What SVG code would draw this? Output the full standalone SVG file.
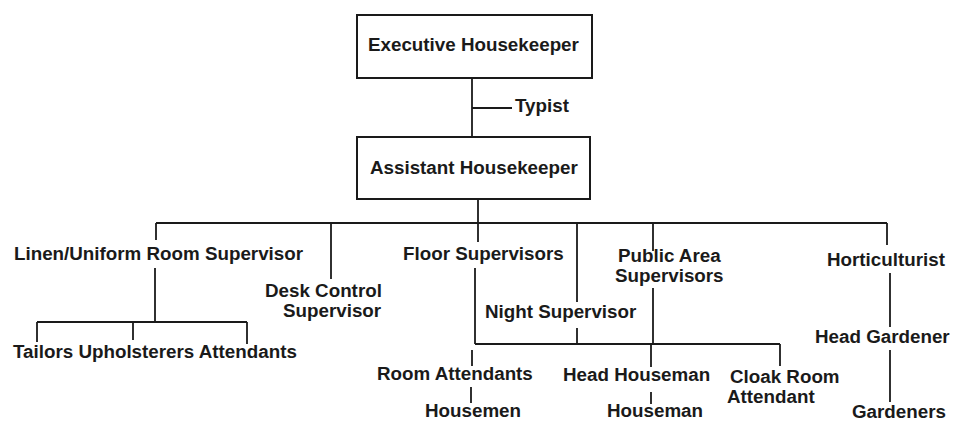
<svg xmlns="http://www.w3.org/2000/svg" width="976" height="423" viewBox="0 0 976 423">
<style>
text{font-family:"Liberation Sans",Arial,sans-serif;font-weight:bold;font-size:18.8px;fill:#1a1a1a}
.box{fill:#fff;stroke:#1a1a1a;stroke-width:2}
#connectors line{stroke:#1a1a1a;stroke-width:1.8}
</style>
<rect width="976" height="423" fill="#fff"/>
<g id="connectors">
<line x1="472" y1="78" x2="472" y2="137"/>
<line x1="472" y1="108" x2="512" y2="108"/>
<line x1="478" y1="199" x2="478" y2="223"/>
<line x1="156" y1="223" x2="887" y2="223"/>
<line x1="156" y1="223" x2="156" y2="240"/>
<line x1="331" y1="223" x2="331" y2="279"/>
<line x1="478" y1="223" x2="478" y2="242"/>
<line x1="577" y1="223" x2="577" y2="302"/>
<line x1="577" y1="328" x2="577" y2="344"/>
<line x1="653" y1="223" x2="653" y2="251"/>
<line x1="653" y1="288" x2="653" y2="344"/>
<line x1="887" y1="223" x2="887" y2="245"/>
<line x1="155" y1="268" x2="155" y2="322"/>
<line x1="37" y1="322" x2="247" y2="322"/>
<line x1="37" y1="322" x2="37" y2="342"/>
<line x1="133" y1="322" x2="133" y2="340"/>
<line x1="247" y1="322" x2="247" y2="344"/>
<line x1="475" y1="268" x2="475" y2="344"/>
<line x1="475" y1="344" x2="780" y2="344"/>
<line x1="472" y1="350" x2="472" y2="366"/>
<line x1="651" y1="344" x2="651" y2="367"/>
<line x1="780" y1="344" x2="780" y2="366"/>
<line x1="471" y1="387" x2="471" y2="403"/>
<line x1="651" y1="392" x2="651" y2="404"/>
<line x1="890" y1="273" x2="890" y2="327"/>
<line x1="890" y1="350" x2="890" y2="402"/>
</g>
<g id="executive-housekeeper"><rect class="box" x="357" y="15" width="235" height="63"/><text x="368" y="51">Executive Housekeeper</text></g>
<g id="typist"><text x="515" y="112">Typist</text></g>
<g id="assistant-housekeeper"><rect class="box" x="357" y="137" width="233" height="62"/><text x="370" y="174">Assistant Housekeeper</text></g>
<g id="linen-supervisor"><text x="14" y="260">Linen/Uniform Room Supervisor</text></g>
<g id="desk-control-supervisor"><text x="265" y="297">Desk Control</text><text x="283" y="317">Supervisor</text></g>
<g id="floor-supervisors"><text x="403" y="260">Floor Supervisors</text></g>
<g id="public-area-supervisors"><text x="618" y="262">Public Area</text><text x="615" y="282">Supervisors</text></g>
<g id="horticulturist"><text x="827" y="266">Horticulturist</text></g>
<g id="night-supervisor"><text x="485" y="318">Night  Supervisor</text></g>
<g id="head-gardener"><text x="815" y="343">Head Gardener</text></g>
<g id="linen-staff"><text x="13" y="358">Tailors Upholsterers Attendants</text></g>
<g id="room-attendants"><text x="377" y="380">Room Attendants</text></g>
<g id="head-houseman"><text x="563" y="381">Head Houseman</text></g>
<g id="cloak-room-attendant"><text x="730" y="383">Cloak Room</text><text x="727" y="403">Attendant</text></g>
<g id="housemen"><text x="425" y="417">Housemen</text></g>
<g id="houseman"><text x="607" y="417">Houseman</text></g>
<g id="gardeners"><text x="852" y="418">Gardeners</text></g>
</svg>
